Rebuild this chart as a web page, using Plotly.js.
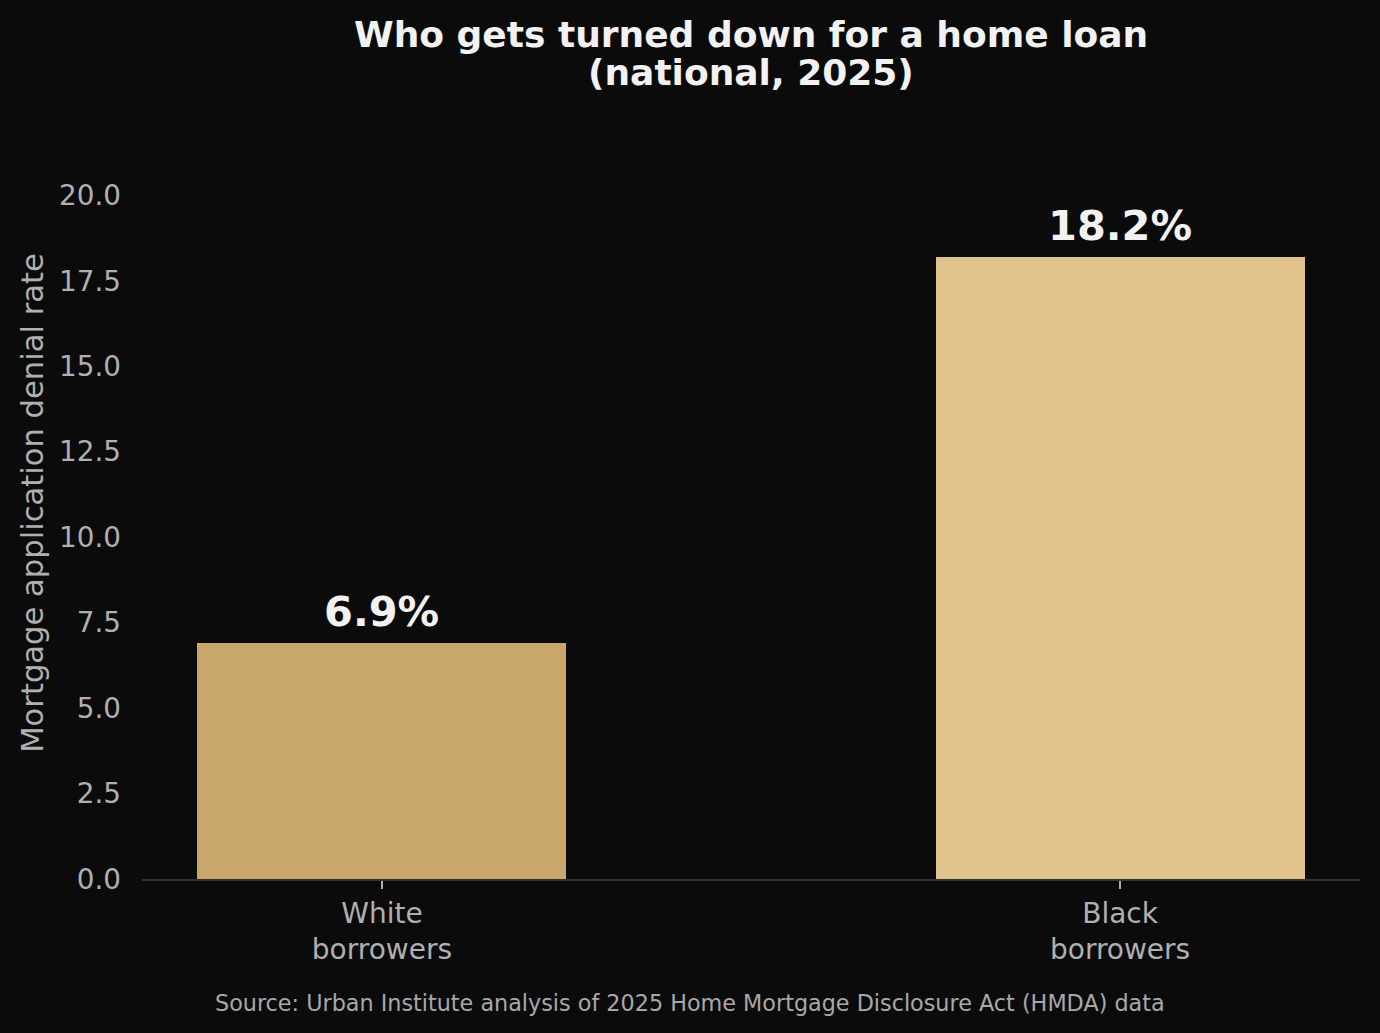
<!DOCTYPE html>
<html>
<head>
<meta charset="utf-8">
<script src="https://cdn.plot.ly/plotly-3.0.1.min.js"></script>
<style>
  html, body { margin: 0; padding: 0; background: #0b0b0b; }
  #chart { width: 1380px; height: 1033px; }
</style>
</head>
<body>
<div id="chart"></div>
<script>
const categories = ["White<br>borrowers", "Black<br>borrowers"];
const categoryPositions = [0, 1];
const denialRates = [6.9, 18.2];
const barColors = ["#c9a76a", "#dfc38a"];
const yTickValues = [0, 2.5, 5, 7.5, 10, 12.5, 15, 17.5, 20];
const yTickLabels = ["0.0", "2.5", "5.0", "7.5", "10.0", "12.5", "15.0", "17.5", "20.0"];
const titleLines = ["Who gets turned down for a home loan", "(national, 2025)"];
const yTitleText = "Mortgage application denial rate";
const sourceText = "Source: Urban Institute analysis of 2025 Home Mortgage Disclosure Act (HMDA) data";

const font = "DejaVu Sans, sans-serif";

const trace = {
  type: "bar",
  x: categoryPositions,
  y: denialRates,
  width: 0.5,
  marker: { color: barColors, line: { width: 0 } },
  hoverinfo: "none"
};

const annotations = [];
categoryPositions.forEach((xp, i) => {
  annotations.push({
    text: "<b>" + denialRates[i].toFixed(1) + "%</b>",
    xref: "x", yref: "y",
    x: xp, y: denialRates[i],
    xanchor: "center", yanchor: "bottom",
    yshift: 5,
    showarrow: false,
    font: { family: font, size: 41.5, color: "#f2f2f2" }
  });
});
const titleY = [1.1234, 1.0725];
titleLines.forEach((t, i) => {
  annotations.push({
    text: "<b>" + t + "</b>",
    xref: "paper", yref: "paper",
    x: 0.5, y: titleY[i],
    xanchor: "center", yanchor: "middle",
    showarrow: false,
    font: { family: font, size: 36, color: "#f2f2f2" }
  });
});
annotations.push({
  text: sourceText,
  xref: "paper", yref: "paper",
  x: (690 - 142) / 1218, y: -(1003 - 879) / 752,
  xanchor: "center", yanchor: "middle",
  showarrow: false,
  font: { family: font, size: 22.3, color: "#a8a8a8" }
});

const layout = {
  width: 1380,
  height: 1033,
  paper_bgcolor: "#0b0b0b",
  plot_bgcolor: "#0b0b0b",
  margin: { l: 142, r: 20, t: 127, b: 154 },
  showlegend: false,
  font: { family: font, color: "#b0b0b0" },
  xaxis: {
    range: [-0.325, 1.325],
    tickmode: "array",
    tickvals: categoryPositions,
    ticktext: categories,
    ticks: "outside",
    ticklen: 8,
    tickwidth: 1.5,
    tickcolor: "#b0b0b0",
    tickfont: { family: font, size: 28, color: "#b0b0b0" },
    showline: true,
    linecolor: "#333333",
    linewidth: 2,
    showgrid: false,
    zeroline: false,
    fixedrange: true
  },
  yaxis: {
    range: [0, 22],
    tickmode: "array",
    tickvals: yTickValues,
    ticktext: yTickLabels,
    ticks: "",
    ticklabelstandoff: 20,
    tickfont: { family: font, size: 27.8, color: "#b0b0b0" },
    showline: false,
    showgrid: false,
    zeroline: false,
    title: { text: yTitleText, font: { family: font, size: 30.6, color: "#b0b0b0" }, standoff: 6 },
    fixedrange: true
  },
  bargap: 0,
  annotations: annotations
};

Plotly.newPlot("chart", [trace], layout, { displayModeBar: false, staticPlot: true });
</script>
</body>
</html>
